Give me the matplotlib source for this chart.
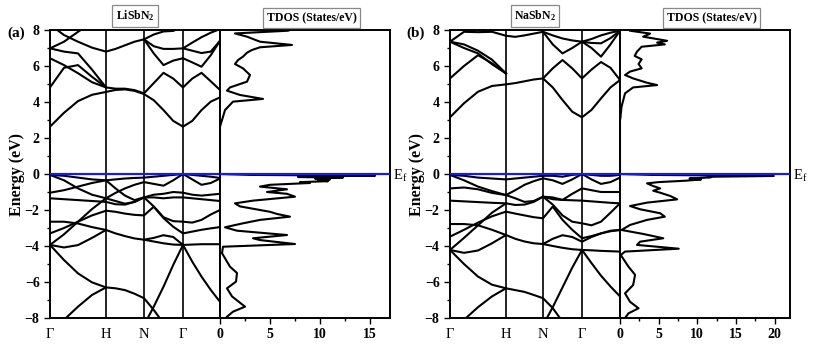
import numpy as np
import matplotlib
matplotlib.use('Agg')
import matplotlib.pyplot as plt
from matplotlib.ticker import MultipleLocator

plt.rcParams['font.family'] = 'Liberation Serif'
plt.rcParams['mathtext.fontset'] = 'custom'
plt.rcParams['mathtext.rm'] = 'Liberation Serif'
plt.rcParams['mathtext.bf'] = 'Liberation Serif:bold'

nan = np.nan

# ---- data ----
kpath_labels = ['Γ', 'H', 'N', 'Γ']
li_kpts = [0, 56, 94, 133, 170]
na_kpts = [0, 56, 93, 132, 170]

# band energies (eV) at 17 k-samples: 4 per segment, Γ-H-N-Γ-end
li_bands = [
    [2.63, 3.40, 4.05, 4.40, 4.56, 4.67, 4.70, 4.62, 4.44, 4.10, 3.55, 2.95, 2.63, 2.95, 3.55, 4.02, 4.26],
    [4.81, 5.90, 6.05, 5.40, 4.81, 4.74, 4.74, 4.66, 4.48, 5.05, 5.62, 5.30, 4.81, 5.30, 5.62, 5.15, 4.67],
    [6.43, 6.05, 5.60, 5.10, 4.81, nan, nan, nan, 7.48, 6.70, 6.05, 6.30, 6.43, 6.20, 5.96, 6.60, 7.40],
    [6.98, 6.80, 6.70, 5.80, 4.81, nan, nan, nan, 7.48, 7.10, 6.95, 6.95, 6.98, 6.85, 6.72, 6.80, 7.40],
    [6.98, 7.35, 7.90, 8.40, nan, nan, nan, nan, nan, nan, nan, nan, 6.98, 7.30, 7.60, 7.85, 8.05],
    [8.30, 7.72, 7.35, 7.02, 6.80, 6.95, 7.15, 7.35, 7.48, 7.75, 7.92, 7.95, 8.20, nan, nan, nan, nan],
    [-0.05, -0.10, -0.20, -0.30, -0.35, -0.30, -0.25, -0.22, -0.20, -0.15, -0.10, -0.05, 0.00, -0.05, -0.10, -0.15, -0.22],
    [-0.05, -0.35, -0.80, -1.15, -1.35, -1.05, -0.80, -0.60, -0.45, -0.55, -0.65, -0.35, 0.00, -0.30, -0.60, -0.50, -0.25],
    [-1.04, -0.90, -0.70, -0.50, -0.35, -0.80, -1.20, -1.45, -1.30, -1.15, -1.10, -1.00, -1.04, -1.15, -1.20, -1.15, -1.10],
    [-1.35, -1.40, -1.45, -1.50, -1.55, -1.68, -1.70, -1.55, -1.30, -1.30, -1.35, -1.30, -1.30, -1.35, -1.40, -1.45, -1.50],
    [-2.65, -2.65, -2.75, -2.95, -3.11, -3.30, -3.45, -3.58, -3.65, -3.55, -3.40, -3.50, -3.94, -3.92, -3.90, -3.90, -3.90],
    [-3.30, -3.00, -2.65, -2.30, -2.04, -2.10, -2.20, -2.27, -2.30, -1.82, -2.45, -2.93, -3.30, -3.20, -3.10, -3.02, -2.95],
    [-3.94, -3.35, -2.65, -1.95, -1.35, -1.50, -1.65, -1.55, -1.30, -1.80, -2.40, -2.62, -2.65, -2.70, -2.55, -2.25, -2.00],
    [-3.94, -4.08, -3.95, -3.55, -3.11, nan, nan, nan, -3.65, -3.75, -3.85, -3.92, -3.94, -4.87, -5.70, -6.44, -7.10],
    [-3.94, -4.78, -5.52, -6.02, -6.30, -6.35, -6.45, -6.65, -6.90, -7.55, -8.30, nan, nan, nan, nan, nan, nan],
    [-8.60, -8.10, -7.37, -6.72, -6.30, nan, nan, nan, -8.40, -7.37, -6.26, -5.05, -3.94, nan, nan, nan, nan],
]

na_bands = [
    [3.15, 3.93, 4.57, 4.89, 4.98, 5.05, 5.15, 5.25, 5.31, 4.81, 4.11, 3.46, 3.15, 3.56, 4.20, 4.81, 5.22],
    [5.31, 6.00, 6.60, 6.15, 5.59, nan, nan, nan, 5.31, 5.87, 6.33, 5.87, 5.31, 5.80, 6.22, 5.90, 5.22],
    [7.35, 7.00, 6.70, 6.10, 5.59, nan, nan, nan, 7.90, 7.20, 6.70, 7.00, 7.35, 7.00, 6.52, 7.20, 7.96],
    [7.35, 7.20, 6.85, 6.35, 5.59, nan, nan, nan, 7.90, 7.70, 7.53, 7.42, 7.35, 7.28, 7.26, 7.55, 7.96],
    [7.35, 7.90, 7.88, 7.90, 7.68, 7.62, 7.70, 7.80, 7.90, nan, nan, nan, 7.35, 7.50, 7.70, 7.85, 7.96],
    [-0.05, -0.10, -0.20, -0.25, -0.30, -0.25, -0.20, -0.15, -0.10, -0.10, -0.15, -0.05, 0.00, -0.05, -0.10, -0.10, -0.05],
    [-0.05, -0.35, -0.70, -0.95, -1.17, -0.90, -0.60, -0.40, -0.24, -0.35, -0.55, -0.30, 0.00, -0.30, -0.55, -0.45, -0.20],
    [-0.80, -0.75, -0.85, -1.05, -1.17, -1.35, -1.55, -1.50, -1.26, -1.40, -1.44, -1.10, -0.80, -0.90, -1.00, -1.00, -1.00],
    [-1.48, -1.52, -1.56, -1.60, -1.63, -1.72, -1.70, -1.55, -1.26, -1.30, -1.44, -1.46, -1.48, -1.52, -1.56, -1.60, -1.63],
    [-2.78, -2.78, -2.85, -3.10, -3.39, -3.60, -3.75, -3.85, -3.89, -3.60, -3.40, -3.50, -3.76, -3.50, -3.30, -3.15, -3.11],
    [-3.48, -3.10, -2.70, -2.35, -2.09, -2.20, -2.30, -2.40, -2.46, -1.81, -2.55, -3.10, -3.57, -3.45, -3.30, -3.18, -3.11],
    [-4.22, -3.55, -2.85, -2.15, -1.63, nan, nan, nan, -1.26, -1.70, -2.30, -2.65, -2.74, -2.85, -2.65, -2.15, -1.63],
    [-4.22, -4.38, -4.25, -3.85, -3.39, nan, nan, nan, -3.89, -4.00, -4.10, -4.18, -4.22, -4.24, -4.27, -4.29, -4.31],
    [-4.22, -5.00, -5.70, -6.15, -6.35, -6.45, -6.55, -6.72, -6.90, -7.45, -8.20, nan, nan, nan, nan, nan, nan],
    [-8.60, -8.10, -7.40, -6.80, -6.35, nan, nan, nan, -8.40, -7.40, -6.30, -5.20, -4.22, -4.95, -5.65, -6.25, -6.80],
]

# total DOS (states/eV) vs energy (eV)
li_dos_energy = [8.0, 7.96, 7.81, 7.63, 7.35, 7.17, 7.04, 6.89, 6.74, 6.52, 6.33, 6.11, 5.87, 5.5, 5.13,
                 4.81, 4.63, 4.39, 4.17, 4.02, 3.55, 2.81, 2.63, 0.0, -0.05, -0.1, -0.13, -0.17, -0.2,
                 -0.25, -0.3, -0.35, -0.4, -0.45, -0.5, -0.6, -0.7, -0.85, -1.0, -1.1, -1.26, -1.48,
                 -1.63, -1.8, -2.0, -2.1, -2.22, -2.37, -2.55, -2.74, -2.96, -3.15, -3.39, -3.57, -3.67,
                 -3.89, -4.04, -4.4, -5.15, -5.5, -5.98, -6.35, -6.8, -7.37, -7.65, -7.93, -8.0]
li_dos_states = [7.0, 6.8, 1.5, 2.7, 4.0, 7.2, 4.0, 3.2, 2.7, 2.3, 1.8, 1.5, 2.3, 3.0, 2.7,
                 1.0, 0.7, 2.0, 4.3, 1.3, 0.5, 0.1, 0.0, 0.0, 3.0, 15.5, 8.0, 7.8, 12.3,
                 9.5, 11.0, 9.8, 10.8, 8.0, 9.0, 5.0, 4.0, 6.7, 4.7, 6.7, 7.5, 3.3,
                 1.5, 2.0, 4.0, 5.0, 5.7, 7.0, 4.0, 2.3, 0.5, 1.7, 6.7, 3.3, 4.0,
                 7.5, 0.3, 0.2, 1.0, 1.7, 1.6, 0.7, 1.2, 2.5, 1.3, 0.7, 0.6]

na_dos_energy = [7.96, 7.8, 7.63, 7.4, 7.3, 7.2, 7.07, 6.8, 6.56, 6.37, 6.11, 5.87, 5.69, 5.5, 5.31,
                 5.07, 4.94, 4.81, 4.48, 3.74, 3.1, 3.0, 0.0, -0.05, -0.11, -0.15, -0.19, -0.25, -0.3,
                 -0.37, -0.45, -0.52, -0.67, -0.8, -0.93, -1.04, -1.22, -1.41, -1.59, -1.78, -1.96,
                 -2.18, -2.37, -2.55, -2.83, -3.11, -3.33, -3.57, -3.76, -3.94, -4.15, -4.31, -4.5,
                 -5.15, -5.6, -6.17, -6.63, -7.1, -7.46, -7.74, -8.0]
na_dos_states = [1.3, 3.9, 3.0, 6.1, 4.8, 5.8, 2.8, 2.2, 1.9, 2.8, 2.4, 2.8, 1.3, 0.65, 1.7,
                 3.5, 4.8, 1.7, 0.65, 0.2, 0.05, 0.0, 0.0, 4.0, 19.9, 12.0, 11.7, 9.0, 10.5,
                 8.6, 5.0, 3.5, 4.3, 5.2, 4.3, 5.2, 6.5, 7.4, 3.5, 1.3, 2.6,
                 5.2, 5.8, 3.5, 1.3, 0.2, 3.0, 5.6, 2.6, 2.2, 7.6, 0.65, 0.1,
                 1.1, 1.95, 1.7, 0.65, 1.3, 2.4, 1.1, 0.65]

W, H = 813, 348
fig = plt.figure(figsize=(W / 100, H / 100), dpi=100)


def px_axes(x0, y0, x1, y1):
    return fig.add_axes([x0 / W, 1 - y1 / H, (x1 - x0) / W, (y1 - y0) / H])


def kgrid(kpts):
    parts = [np.linspace(kpts[i], kpts[i + 1], 5)[:-1] for i in range(4)]
    return np.concatenate(parts + [[kpts[-1]]])


def style_spines(ax):
    for s in ax.spines.values():
        s.set_linewidth(1.4)


def panel(x0, kpts, bands, dos_e, dos_v, dos_max, dos_ticks, name, tag, ylab_x):
    ax = px_axes(x0, 30, x0 + 170, 318)
    k = kgrid(kpts)
    for b in bands:
        ax.plot(k, b, color='black', lw=1.5)
    for kp in kpts[1:4]:
        ax.axvline(kp, color='black', lw=1.2)
    ax.axhline(0, color='#1a1ae0', lw=1.6, zorder=5)
    ax.set_xlim(kpts[0], kpts[-1])
    ax.set_ylim(-8, 8)
    ax.set_xticks(kpts[:4])
    ax.set_xticklabels(kpath_labels, fontsize=10.5)
    ax.tick_params(axis='x', length=0, pad=7)
    ax.yaxis.set_major_locator(MultipleLocator(2))
    ax.yaxis.set_minor_locator(MultipleLocator(1))
    ax.tick_params(axis='y', which='major', direction='out', length=4, width=1, labelsize=10)
    ax.tick_params(axis='y', which='minor', direction='out', length=2.5, width=1)
    for lab in ax.get_yticklabels():
        lab.set_fontweight('bold')
    ax.set_ylabel('Energy (eV)', fontsize=11.5, fontweight='bold')
    ax.yaxis.set_label_coords(ylab_x, 0.5)
    style_spines(ax)

    ax.text(0.5, 1.0 + 14 / 288, name, transform=ax.transAxes, ha='center', va='center',
            fontsize=8.5, bbox=dict(boxstyle='square,pad=0.3', fc='white', ec='#888888', lw=0.9))

    ad = px_axes(x0 + 170, 30, x0 + 340, 318)
    ad.plot(dos_v, dos_e, color='black', lw=1.5)
    ad.axhline(0, color='#1a1ae0', lw=1.6, zorder=5)
    ad.set_xlim(0, dos_max)
    ad.set_ylim(-8, 8)
    ad.set_yticks([])
    ad.set_xticks(dos_ticks)
    ad.xaxis.set_minor_locator(MultipleLocator(2.5))
    ad.tick_params(axis='x', which='major', direction='out', length=4, width=1, labelsize=10, pad=3)
    ad.tick_params(axis='x', which='minor', direction='out', length=2.5, width=1)
    for lab in ad.get_xticklabels():
        lab.set_fontweight('bold')
    style_spines(ad)
    ad.text(0.54, 1.0 + 12 / 288, 'TDOS (States/eV)', transform=ad.transAxes, ha='center',
            va='center', fontsize=8.5, fontweight='bold',
            bbox=dict(boxstyle='square,pad=0.3', fc='white', ec='#888888', lw=0.9))
    fig.text((x0 + 343) / W, 1 - 176 / H, r'E$_\mathrm{f}$', fontsize=10.5, ha='left', va='center')
    fig.text((x0 - 34) / W, 1 - 33 / H, tag, fontsize=11, fontweight='bold', ha='center', va='center')


panel(50, li_kpts, li_bands, li_dos_energy, li_dos_states, 17, [0, 5, 10, 15],
      r'$\mathbf{LiSbN_2}$', '(a)', -0.145)
panel(450, na_kpts, na_bands, na_dos_energy, na_dos_states, 22, [0, 5, 10, 15, 20],
      r'$\mathbf{NaSbN_2}$', '(b)', -0.15)

fig.savefig('out.png', dpi=100)
